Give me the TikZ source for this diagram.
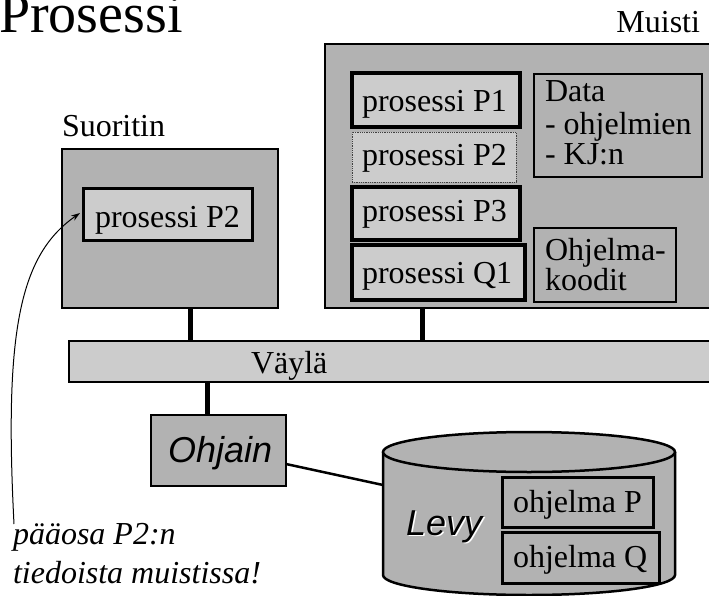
\documentclass[tikz,border=0pt]{standalone}
\usepackage{fontspec}
\setmainfont{Liberation Serif}
\newfontfamily\arialfont{Liberation Sans}
\usetikzlibrary{arrows.meta}
\definecolor{gA}{HTML}{B2B2B2}
\definecolor{gB}{HTML}{CCCCCC}
\begin{document}
\begin{tikzpicture}[x=1pt,y=-1pt,
  every node/.style={inner sep=0pt, outer sep=0pt},
  outerbox/.style={draw=black, line width=2.5pt, fill=gA, anchor=north west},
  procbox/.style={draw=black, line width=4pt, fill=gB, anchor=north west},
  dotbox/.style={draw=black!75, line width=0.8pt, densely dotted, fill=gB, anchor=north west},
  thinbox/.style={draw=black, line width=1.3pt, fill=gA, anchor=north west},
  progbox/.style={draw=black, line width=3pt, fill=gA, anchor=north west},
  busbox/.style={draw=black, line width=2.5pt, fill=gB, anchor=north west},
  conn/.style={line width=5pt},
  txt/.style={anchor=base west, font=\fontsize{32}{32}\selectfont},
  sanstxt/.style={anchor=base west, font=\arialfont\itshape\fontsize{36}{36}\selectfont},
  note/.style={anchor=base west, font=\itshape\fontsize{32}{32}\selectfont}]
\useasboundingbox (0,0) rectangle (709,596);
\clip (0,0) rectangle (709,596);

% title
\node[anchor=base west, font=\fontsize{56}{56}\selectfont] (title) at (-1,33) {Prosessi};

% processor
\node[txt] (cpulabel) at (62,137) {Suoritin};
\node[outerbox, minimum width=216pt, minimum height=159pt] (cpu) at (62,149) {};
\node[progbox, fill=gB, minimum width=169pt, minimum height=51pt] (cpup2) at (83,189) {};
\node[txt] (cpup2t) at (95,227) {prosessi P2};

% memory
\node[anchor=base east, font=\fontsize{32}{32}\selectfont] (memlabel) at (700,33) {Muisti};
\node[outerbox, minimum width=420pt, minimum height=264pt] (mem) at (325,44) {};
\node[procbox, minimum width=168pt, minimum height=54pt] (p1) at (352,73) {};
\node[dotbox, minimum width=164pt, minimum height=50pt] (p2) at (352,132) {};
\node[procbox, minimum width=168pt, minimum height=53pt] (p3) at (352,187) {};
\node[procbox, minimum width=173pt, minimum height=55pt] (q1) at (352,245) {};
\node[txt] (p1t) at (362,112) {prosessi P1};
\node[txt] (p2t) at (362,166) {prosessi P2};
\node[txt] (p3t) at (362,222) {prosessi P3};
\node[txt] (q1t) at (362,283) {prosessi Q1};
\node[thinbox, minimum width=168pt, minimum height=103pt] (data) at (534,74) {};
\node[txt] (data1) at (545,102) {Data};
\node[txt] (data2) at (545,135) {- ohjelmien};
\node[txt] (data3) at (545,165) {- KJ:n};
\node[thinbox, minimum width=142pt, minimum height=74pt] (code) at (534,228) {};
\node[txt] (code1) at (545,260) {Ohjelma-};
\node[txt] (code2) at (545,290) {koodit};

% bus
\node[busbox, minimum width=700pt, minimum height=41pt] (bus) at (69,341) {};
\node[txt] (bust) at (251,373) {Väylä};

\coordinate (xc) at (190,0);
\coordinate (xm) at (422,0);
\coordinate (xo) at (207,0);
\draw[conn] (xc |- cpu.south) -- (xc |- bus.north);
\draw[conn] (xm |- mem.south) -- (xm |- bus.north);

% controller
\node[outerbox, minimum width=135pt, minimum height=71pt] (ohjain) at (151,415) {};
\node[sanstxt] (ohjaint) at (168,462) {Ohjain};
\draw[conn] (xo |- bus.south) -- (xo |- ohjain.north);

% disk
\path[fill=gA] (383,452) -- (383,575)
  .. controls (383,586) and (448.4,595) .. (529,595)
  .. controls (609.6,595) and (675,586) .. (675,575) -- (675,452) -- cycle;
\draw[line width=2.5pt] (383,452) -- (383,575)
  .. controls (383,586) and (448.4,595) .. (529,595)
  .. controls (609.6,595) and (675,586) .. (675,575) -- (675,452);
\draw[line width=2.5pt, fill=gA] (529,452) ellipse [x radius=146, y radius=20];
\coordinate (levyin) at (383,485);
\coordinate (ohjout) at (286,464);
\draw[line width=2.5pt] (ohjout) -- (levyin);
\node[sanstxt, text=white] (levysh) at (407.5,536.5) {Levy};
\node[sanstxt] (levyt) at (406,535) {Levy};
\node[progbox, minimum width=151pt, minimum height=50pt] (progp) at (502,477) {};
\node[progbox, minimum width=157pt, minimum height=51pt] (progq) at (502,532) {};
\node[txt] (progpt) at (513,512) {ohjelma P};
\node[txt] (progqt) at (513,567) {ohjelma Q};

% note
\node[note] (note1) at (13,544) {pääosa P2:n};
\node[note] (note2) at (13,583) {tiedoista muistissa!};
\coordinate (nstart) at (14,524);
\coordinate (ntip) at (80,213);
\draw[line width=1pt, -{Stealth[length=9pt,width=6pt]}] (nstart) .. controls (4,330) and (20,255) .. (ntip);
\end{tikzpicture}
\end{document}
